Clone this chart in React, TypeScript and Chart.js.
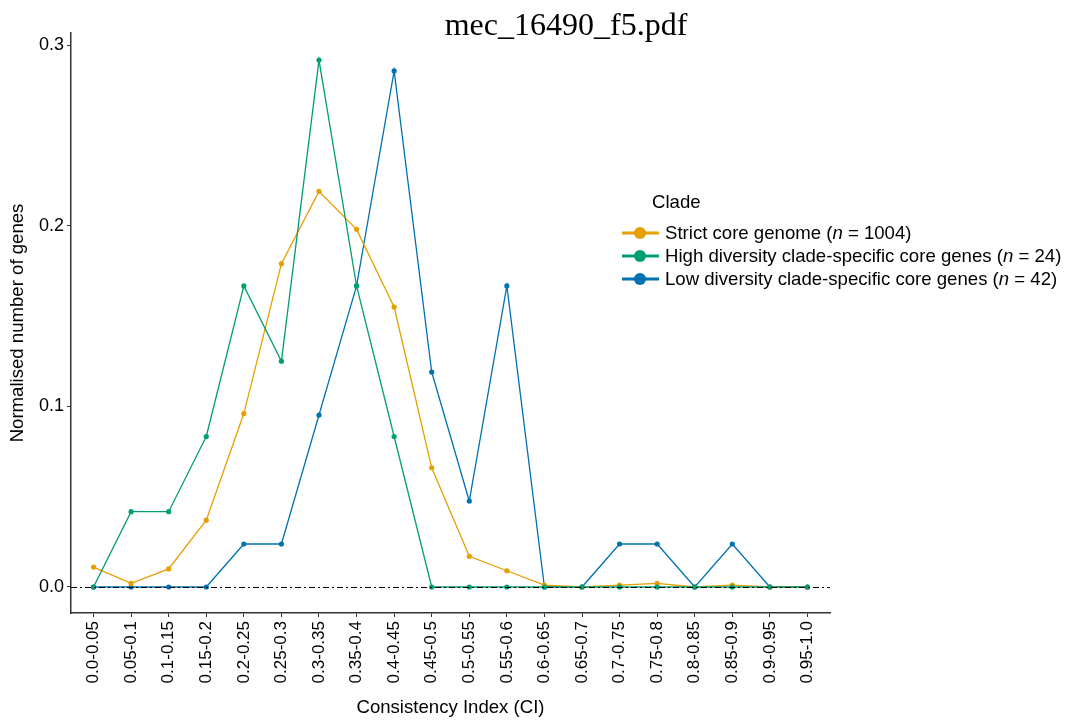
import React, { useEffect, useRef } from "react";
import { Chart, registerables } from "chart.js";

Chart.register(...registerables);

const categories = [
  "0.0-0.05", "0.05-0.1", "0.1-0.15", "0.15-0.2", "0.2-0.25", "0.25-0.3", "0.3-0.35",
  "0.35-0.4", "0.4-0.45", "0.45-0.5", "0.5-0.55", "0.55-0.6", "0.6-0.65", "0.65-0.7",
  "0.7-0.75", "0.75-0.8", "0.8-0.85", "0.85-0.9", "0.9-0.95", "0.95-1.0",
];

const strictCore = [
  0.011, 0.002, 0.01, 0.037, 0.096, 0.179, 0.219, 0.198, 0.155, 0.066,
  0.017, 0.009, 0.001, 0.0, 0.001, 0.002, 0.0, 0.001, 0.0, 0.0,
];
const highDiversity = [
  0.0, 0.0417, 0.0417, 0.0833, 0.1667, 0.125, 0.2917, 0.1667, 0.0833, 0.0,
  0.0, 0.0, 0.0, 0.0, 0.0, 0.0, 0.0, 0.0, 0.0, 0.0,
];
const lowDiversity = [
  0.0, 0.0, 0.0, 0.0, 0.0238, 0.0238, 0.0952, 0.1667, 0.2857, 0.119,
  0.0476, 0.1667, 0.0, 0.0, 0.0238, 0.0238, 0.0, 0.0238, 0.0, 0.0,
];

const seriesNames = [
  ["Strict core genome (", "n", " = 1004)"],
  ["High diversity clade-specific core genes (", "n", " = 24)"],
  ["Low diversity clade-specific core genes (", "n", " = 42)"],
];
const seriesColors = ["#E69F00", "#009E73", "#0072B2"];
const yTickValues = [0, 0.1, 0.2, 0.3];

const chartTitle = "mec_16490_f5.pdf";
const legendTitle = "Clade";
const xTitle = "Consistency Index (CI)";
const yTitle = "Normalised number of genes";

const SANS = "'Liberation Sans', Arial, sans-serif";
const LABEL_SIZE = 18.6;

const toPoints = (arr: number[]) => arr.map((y, i) => ({ x: i, y }));

const extrasPlugin = {
  id: "extras",
  afterDatasetsDraw(chart: any) {
    const { ctx, chartArea, scales } = chart;
    const y0 = scales.y.getPixelForValue(0);
    ctx.save();
    ctx.strokeStyle = "#000";
    ctx.lineWidth = 1;
    ctx.setLineDash([6, 3, 2, 3]);
    ctx.beginPath();
    ctx.moveTo(chartArea.left, Math.round(y0) + 0.5);
    ctx.lineTo(chartArea.right, Math.round(y0) + 0.5);
    ctx.stroke();
    ctx.restore();
  },
  afterDraw(chart: any) {
    const { ctx, chartArea } = chart;
    ctx.save();
    // Title
    ctx.fillStyle = "#000";
    ctx.font = "32px 'Liberation Serif', 'Times New Roman', serif";
    ctx.textAlign = "center";
    ctx.textBaseline = "middle";
    ctx.fillText(chartTitle, 566, 27);

    // Legend
    const lx = chartArea.right - 208;
    ctx.textAlign = "left";
    ctx.font = `${LABEL_SIZE}px ${SANS}`;
    ctx.fillStyle = "#000";
    ctx.fillText(legendTitle, lx + 30, 203);
    const rows = [233, 256, 279];
    seriesNames.forEach((parts, i) => {
      const y = rows[i];
      ctx.strokeStyle = seriesColors[i];
      ctx.lineWidth = 3;
      ctx.beginPath();
      ctx.moveTo(lx, y);
      ctx.lineTo(lx + 37, y);
      ctx.stroke();
      ctx.fillStyle = seriesColors[i];
      ctx.beginPath();
      ctx.arc(lx + 18, y, 6, 0, Math.PI * 2);
      ctx.fill();
      let tx = lx + 43;
      ctx.fillStyle = "#000";
      parts.forEach((p, j) => {
        ctx.font = j === 1 ? `italic ${LABEL_SIZE}px ${SANS}` : `${LABEL_SIZE}px ${SANS}`;
        ctx.fillText(p, tx, y + 1);
        tx += ctx.measureText(p).width;
      });
    });
    ctx.restore();
  },
};

export default function App() {
  const canvasRef = useRef<HTMLCanvasElement | null>(null);

  useEffect(() => {
    if (!canvasRef.current) return;
    const ds = [strictCore, highDiversity, lowDiversity];
    const orders = [1, 0, 2];
    const chart = new Chart(canvasRef.current, {
      type: "line",
      data: {
        datasets: ds.map((d, i) => ({
          label: seriesNames[i].join(""),
          data: toPoints(d),
          borderColor: seriesColors[i],
          backgroundColor: seriesColors[i],
          borderWidth: 1.3,
          pointRadius: 2.6,
          pointHoverRadius: 2.6,
          pointBorderWidth: 0,
          tension: 0,
          fill: false,
          order: orders[i],
        })),
      },
      options: {
        animation: false,
        responsive: false,
        maintainAspectRatio: false,
        layout: { padding: { left: 0, top: 33, right: 236, bottom: 0 } },
        plugins: {
          legend: { display: false },
          title: { display: false },
          tooltip: { enabled: false },
        },
        scales: {
          x: {
            type: "linear",
            min: -0.6,
            max: categories.length - 1 + 0.6,
            afterBuildTicks: (scale: any) => {
              scale.ticks = categories.map((_, i) => ({ value: i }));
            },
            afterFit: (scale: any) => {
              scale.height = 113;
            },
            grid: {
              drawOnChartArea: false,
              drawTicks: true,
              tickLength: 4,
              color: "#333",
              tickWidth: 1,
            },
            border: { display: true, color: "#333", width: 1.5 },
            ticks: {
              autoSkip: false,
              minRotation: 90,
              maxRotation: 90,
              padding: 4,
              color: "#000",
              font: { family: SANS, size: 17 },
              callback: (v: any) => categories[v as number] ?? "",
            },
            title: {
              display: true,
              text: xTitle,
              color: "#000",
              font: { family: SANS, size: LABEL_SIZE },
              padding: { top: 0, bottom: 7 },
            },
          },
          y: {
            type: "linear",
            min: -0.0144,
            max: 0.3067,
            afterBuildTicks: (scale: any) => {
              scale.ticks = yTickValues.map((v) => ({ value: v }));
            },
            afterFit: (scale: any) => {
              scale.width = 71;
            },
            grid: {
              drawOnChartArea: false,
              drawTicks: true,
              tickLength: 4,
              color: "#333",
              tickWidth: 1,
            },
            border: { display: true, color: "#333", width: 1.5 },
            ticks: {
              padding: 3,
              color: "#000",
              font: { family: SANS, size: 18 },
              callback: (v: any) => Number(v).toFixed(1),
            },
            title: {
              display: true,
              text: yTitle,
              color: "#000",
              font: { family: SANS, size: LABEL_SIZE },
              padding: { top: 7, bottom: 0 },
            },
          },
        },
      },
      plugins: [extrasPlugin],
    } as any);
    return () => chart.destroy();
  }, []);

  return (
    <div style={{ position: "fixed", left: 0, top: 0, width: 1066, height: 726, background: "#fff" }}>
      <canvas ref={canvasRef} width={1066} height={726} style={{ width: 1066, height: 726 }} />
    </div>
  );
}
